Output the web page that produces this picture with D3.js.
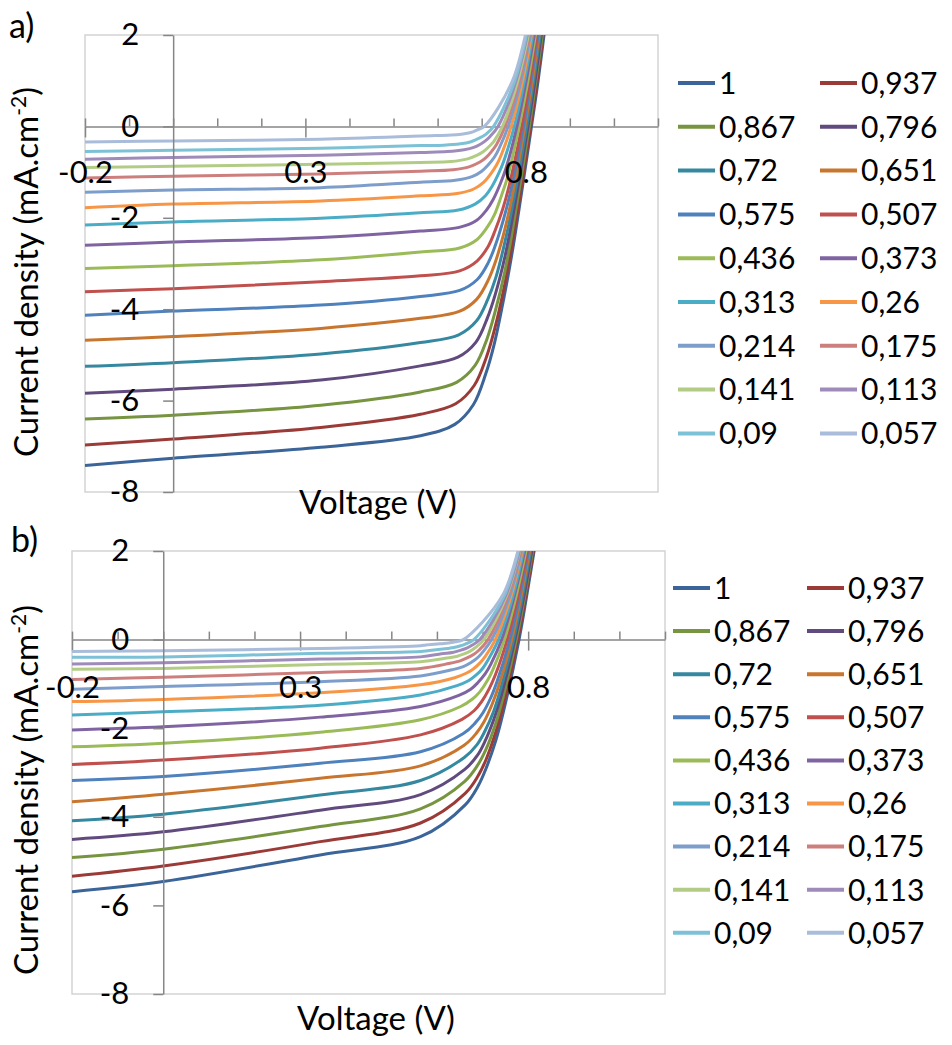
<!DOCTYPE html>
<html>
<head>
<meta charset="utf-8">
<script src="https://cdn.jsdelivr.net/npm/d3@7"></script>
<style>
  body { margin: 0; background: #fff; }
</style>
</head>
<body>
<script>
// light intensity of each curve, as written in the legend
const intensities = ['1', '0,937', '0,867', '0,796', '0,72', '0,651', '0,575', '0,507', '0,436',
    '0,373', '0,313', '0,26', '0,214', '0,175', '0,141', '0,113', '0,09', '0,057'];

const voltageTicks = [-0.2, -0.1, 0, 0.1, 0.2, 0.3, 0.4, 0.5, 0.6, 0.7, 0.8, 0.9, 1.0, 1.1];
const voltageLabels = [-0.2, 0.3, 0.8];
const currentTicks = [2, 0, -2, -4, -6, -8];

// [voltage V, current density mA/cm2] read off panel a)
const curvesA = [
    [[-0.2,-7.42],[0,-7.26],[0.335,-7.02],[0.561,-6.77],[0.639,-6.52],[0.681,-6.09],[0.709,-5.42],[0.729,-4.74],[0.751,-3.72],[0.770,-2.71],[0.813,0],[0.828,1],[0.848,2.5]],
    [[-0.2,-6.97],[0,-6.84],[0.335,-6.59],[0.561,-6.30],[0.641,-6.07],[0.683,-5.67],[0.711,-5.04],[0.730,-4.41],[0.752,-3.47],[0.770,-2.52],[0.811,0],[0.826,1],[0.846,2.5]],
    [[-0.2,-6.40],[0,-6.32],[0.335,-6.10],[0.561,-5.81],[0.643,-5.60],[0.685,-5.23],[0.712,-4.65],[0.730,-4.07],[0.752,-3.20],[0.769,-2.32],[0.808,0],[0.823,1],[0.845,2.5]],
    [[-0.2,-5.84],[0,-5.75],[0.335,-5.55],[0.561,-5.24],[0.646,-5.05],[0.687,-4.72],[0.713,-4.19],[0.731,-3.67],[0.752,-2.88],[0.768,-2.10],[0.805,0],[0.821,1],[0.842,2.5]],
    [[-0.2,-5.25],[0,-5.17],[0.335,-4.98],[0.561,-4.73],[0.648,-4.56],[0.688,-4.26],[0.714,-3.78],[0.732,-3.31],[0.751,-2.60],[0.767,-1.89],[0.802,0],[0.818,1],[0.840,2.5]],
    [[-0.2,-4.68],[0,-4.60],[0.335,-4.42],[0.561,-4.20],[0.649,-4.05],[0.689,-3.78],[0.715,-3.36],[0.732,-2.94],[0.751,-2.31],[0.766,-1.68],[0.798,0],[0.815,1],[0.838,2.5]],
    [[-0.2,-4.13],[0,-4.04],[0.335,-3.91],[0.561,-3.72],[0.650,-3.59],[0.690,-3.35],[0.715,-2.98],[0.731,-2.60],[0.749,-2.05],[0.764,-1.49],[0.795,0],[0.812,1],[0.836,2.5]],
    [[-0.2,-3.62],[0,-3.55],[0.335,-3.40],[0.561,-3.27],[0.650,-3.16],[0.690,-2.94],[0.715,-2.62],[0.730,-2.29],[0.748,-1.80],[0.762,-1.31],[0.791,0],[0.809,1],[0.833,2.5]],
    [[-0.2,-3.11],[0,-3.05],[0.335,-2.92],[0.561,-2.75],[0.650,-2.66],[0.689,-2.48],[0.713,-2.20],[0.729,-1.93],[0.745,-1.51],[0.759,-1.10],[0.785,0],[0.805,1],[0.830,2.5]],
    [[-0.2,-2.60],[0,-2.53],[0.335,-2.43],[0.561,-2.29],[0.649,-2.21],[0.688,-2.06],[0.711,-1.83],[0.726,-1.60],[0.742,-1.26],[0.755,-0.92],[0.780,0],[0.801,1],[0.828,2.5]],
    [[-0.2,-2.16],[0,-2.09],[0.335,-2.01],[0.561,-1.89],[0.647,-1.83],[0.685,-1.70],[0.709,-1.51],[0.723,-1.32],[0.738,-1.04],[0.750,-0.76],[0.774,0],[0.797,1],[0.825,2.5]],
    [[-0.2,-1.78],[0,-1.70],[0.335,-1.63],[0.561,-1.52],[0.644,-1.47],[0.682,-1.37],[0.705,-1.22],[0.719,-1.06],[0.734,-0.84],[0.745,-0.61],[0.767,0],[0.793,1],[0.822,2.5]],
    [[-0.2,-1.44],[0,-1.39],[0.335,-1.34],[0.561,-1.22],[0.640,-1.18],[0.678,-1.10],[0.700,-0.98],[0.714,-0.85],[0.729,-0.67],[0.739,-0.49],[0.760,0],[0.789,1],[0.820,2.5]],
    [[-0.2,-1.13],[0,-1.09],[0.335,-1.04],[0.561,-0.98],[0.635,-0.95],[0.673,-0.88],[0.696,-0.78],[0.709,-0.69],[0.723,-0.54],[0.734,-0.39],[0.753,0],[0.785,1],[0.818,2.5]],
    [[-0.2,-0.90],[0,-0.87],[0.335,-0.83],[0.561,-0.79],[0.630,-0.77],[0.668,-0.71],[0.690,-0.63],[0.704,-0.55],[0.718,-0.43],[0.728,-0.32],[0.747,0],[0.782,1],[0.816,2.5]],
    [[-0.2,-0.72],[0,-0.68],[0.335,-0.63],[0.561,-0.57],[0.622,-0.55],[0.660,-0.51],[0.682,-0.46],[0.695,-0.40],[0.709,-0.31],[0.718,-0.23],[0.737,0],[0.778,1],[0.814,2.5]],
    [[-0.2,-0.55],[0,-0.52],[0.335,-0.48],[0.561,-0.42],[0.614,-0.41],[0.652,-0.38],[0.674,-0.34],[0.687,-0.29],[0.700,-0.23],[0.710,-0.17],[0.727,0],[0.775,1],[0.812,2.5]],
    [[-0.2,-0.34],[0,-0.32],[0.335,-0.28],[0.561,-0.21],[0.595,-0.20],[0.632,-0.19],[0.654,-0.17],[0.667,-0.15],[0.680,-0.12],[0.689,-0.08],[0.706,0],[0.770,1],[0.810,2.5]]
];

// same, panel b)
const curvesB = [
    [[-0.2,-5.69],[0,-5.46],[0.344,-4.86],[0.564,-4.45],[0.662,-3.73],[0.690,-3.31],[0.708,-2.90],[0.729,-2.28],[0.745,-1.66],[0.780,0],[0.797,1],[0.821,2.5]],
    [[-0.2,-5.34],[0,-5.11],[0.344,-4.56],[0.564,-4.14],[0.662,-3.47],[0.690,-3.08],[0.708,-2.70],[0.728,-2.12],[0.744,-1.54],[0.777,0],[0.795,1],[0.820,2.5]],
    [[-0.2,-4.92],[0,-4.73],[0.344,-4.22],[0.564,-3.82],[0.661,-3.20],[0.689,-2.84],[0.707,-2.49],[0.727,-1.95],[0.742,-1.42],[0.774,0],[0.793,1],[0.818,2.5]],
    [[-0.2,-4.51],[0,-4.34],[0.344,-3.85],[0.564,-3.50],[0.661,-2.93],[0.689,-2.61],[0.706,-2.28],[0.725,-1.79],[0.740,-1.30],[0.771,0],[0.791,1],[0.816,2.5]],
    [[-0.2,-4.09],[0,-3.94],[0.344,-3.51],[0.564,-3.18],[0.660,-2.66],[0.688,-2.37],[0.705,-2.07],[0.724,-1.63],[0.738,-1.18],[0.768,0],[0.788,1],[0.814,2.5]],
    [[-0.2,-3.66],[0,-3.49],[0.344,-3.13],[0.564,-2.85],[0.659,-2.39],[0.686,-2.12],[0.703,-1.86],[0.721,-1.46],[0.735,-1.06],[0.764,0],[0.785,1],[0.812,2.5]],
    [[-0.2,-3.18],[0,-3.09],[0.344,-2.79],[0.564,-2.53],[0.658,-2.12],[0.684,-1.88],[0.701,-1.65],[0.719,-1.29],[0.732,-0.94],[0.760,0],[0.782,1],[0.810,2.5]],
    [[-0.2,-2.82],[0,-2.72],[0.344,-2.45],[0.564,-2.15],[0.655,-1.80],[0.682,-1.60],[0.698,-1.40],[0.715,-1.10],[0.728,-0.80],[0.754,0],[0.778,1],[0.808,2.5]],
    [[-0.2,-2.42],[0,-2.34],[0.344,-2.09],[0.564,-1.81],[0.652,-1.51],[0.678,-1.34],[0.694,-1.18],[0.711,-0.92],[0.723,-0.67],[0.748,0],[0.774,1],[0.805,2.5]],
    [[-0.2,-2.04],[0,-1.97],[0.344,-1.75],[0.564,-1.51],[0.648,-1.26],[0.674,-1.12],[0.689,-0.98],[0.706,-0.77],[0.718,-0.56],[0.742,0],[0.770,1],[0.803,2.5]],
    [[-0.2,-1.70],[0,-1.63],[0.344,-1.48],[0.564,-1.25],[0.644,-1.04],[0.669,-0.93],[0.685,-0.81],[0.701,-0.64],[0.712,-0.46],[0.735,0],[0.767,1],[0.800,2.5]],
    [[-0.2,-1.40],[0,-1.35],[0.344,-1.20],[0.564,-1.02],[0.639,-0.86],[0.664,-0.76],[0.679,-0.67],[0.695,-0.52],[0.706,-0.38],[0.728,0],[0.763,1],[0.798,2.5]],
    [[-0.2,-1.12],[0,-1.06],[0.344,-0.95],[0.564,-0.82],[0.633,-0.68],[0.658,-0.61],[0.673,-0.53],[0.688,-0.42],[0.699,-0.30],[0.720,0],[0.760,1],[0.796,2.5]],
    [[-0.2,-0.90],[0,-0.85],[0.344,-0.74],[0.564,-0.65],[0.626,-0.54],[0.651,-0.48],[0.665,-0.42],[0.681,-0.33],[0.692,-0.24],[0.712,0],[0.756,1],[0.794,2.5]],
    [[-0.2,-0.67],[0,-0.65],[0.344,-0.56],[0.564,-0.50],[0.618,-0.42],[0.643,-0.38],[0.658,-0.33],[0.673,-0.26],[0.683,-0.19],[0.703,0],[0.753,1],[0.793,2.5]],
    [[-0.2,-0.55],[0,-0.52],[0.344,-0.44],[0.564,-0.39],[0.610,-0.32],[0.634,-0.29],[0.649,-0.25],[0.664,-0.20],[0.675,-0.14],[0.694,0],[0.751,1],[0.792,2.5]],
    [[-0.2,-0.40],[0,-0.39],[0.344,-0.31],[0.564,-0.27],[0.598,-0.23],[0.623,-0.20],[0.637,-0.18],[0.652,-0.14],[0.662,-0.10],[0.681,0],[0.748,1],[0.790,2.5]],
    [[-0.2,-0.27],[0,-0.25],[0.344,-0.20],[0.564,-0.14],[0.576,-0.12],[0.601,-0.10],[0.615,-0.09],[0.629,-0.07],[0.640,-0.05],[0.658,0],[0.744,1],[0.789,2.5]]
];

const palette = ['#3b6498', '#9b3b38', '#779441', '#614a7e', '#35889f', '#c8762f',
    '#4f81bd', '#c0504d', '#9bbb59', '#8064a2', '#4bacc6', '#f79646',
    '#7d9dcb', '#cd7f7d', '#b3cc85', '#9e8bba', '#7cc1d6', '#a9bcda'];

const FONT = 'Lato, "Open Sans", sans-serif';
const axisColor = '#868686';

const svg = d3.select('body')
    .append('svg')
    .attr('width', 952)
    .attr('height', 1045);

function styleAxis(sel) {
    sel.attr('font-family', FONT).attr('font-size', 31);
    sel.selectAll('line, path').attr('stroke', axisColor).attr('stroke-width', 1.5);
    sel.selectAll('text').attr('fill', '#000');
}

function drawPanel(p, curves) {
    const x = d3.scaleLinear().domain([-0.2, 1.1]).range([p.left, p.right]);
    const y = d3.scaleLinear().domain([-8, 2]).range([p.bottom, p.top]);
    const g = svg.append('g');

    g.append('rect')
        .attr('x', p.left)
        .attr('y', p.top)
        .attr('width', p.right - p.left)
        .attr('height', p.bottom - p.top)
        .attr('fill', 'none')
        .attr('stroke', '#d4d4d4')
        .attr('stroke-width', 1.5);

    g.append('clipPath')
        .attr('id', 'clip-' + p.id)
        .append('rect')
        .attr('x', p.left)
        .attr('y', p.top)
        .attr('width', p.right - p.left)
        .attr('height', p.bottom - p.top);

    // x axis crosses at 0 mA, small ticks above, crossing ticks at labelled values
    g.append('g')
        .attr('transform', `translate(0, ${y(0)})`)
        .call(d3.axisTop(x).tickValues(voltageTicks).tickSize(8).tickSizeOuter(0).tickFormat(''))
        .call(styleAxis);
    g.append('g')
        .attr('transform', `translate(0, ${y(0)})`)
        .call(d3.axisBottom(x).tickValues(voltageLabels).tickSize(11).tickSizeOuter(0).tickFormat(''))
        .call(styleAxis)
        .call(s => s.select('.domain').remove());

    // y axis crosses at 0 V
    const yAxis = g.append('g')
        .attr('transform', `translate(${x(0)}, 0)`)
        .call(d3.axisLeft(y).tickValues(currentTicks).tickSize(10).tickPadding(24).tickSizeOuter(0)
            .tickFormat(d => String(d)))
        .call(styleAxis);

    const line = d3.line()
        .x(d => x(d[0]))
        .y(d => y(d[1]))
        .curve(d3.curveCatmullRom.alpha(0.5));

    g.append('g')
        .attr('clip-path', `url(#clip-${p.id})`)
        .selectAll('path')
        .data(curves)
        .join('path')
        .attr('d', line)
        .attr('fill', 'none')
        .attr('stroke', (d, i) => palette[i])
        .attr('stroke-width', 3);

    // labels over the curves
    yAxis.raise();
    g.append('g')
        .attr('transform', `translate(0, ${y(0)})`)
        .call(d3.axisBottom(x).tickValues(voltageLabels).tickSize(0).tickPadding(p.xLabelPad)
            .tickFormat(d => String(d)))
        .call(styleAxis)
        .call(s => s.select('.domain').remove());

    g.append('text')
        .attr('x', p.tagX)
        .attr('y', p.tagY)
        .attr('font-family', FONT)
        .attr('font-size', 34)
        .text(p.tag);

    g.append('text')
        .attr('x', p.xTitleX)
        .attr('y', p.xTitleY)
        .attr('text-anchor', 'middle')
        .attr('font-family', FONT)
        .attr('font-size', 33)
        .text('Voltage (V)');

    const yt = g.append('text')
        .attr('transform', `translate(${p.yTitleX}, ${p.yTitleY}) rotate(-90)`)
        .attr('text-anchor', 'middle')
        .attr('font-family', FONT)
        .attr('font-size', 33);
    yt.append('tspan').text('Current density (mA.cm');
    yt.append('tspan').attr('font-size', 21).attr('dy', -12).text('-2');
    yt.append('tspan').attr('dy', 12).text(')');

    const legend = g.append('g')
        .selectAll('g')
        .data(intensities)
        .join('g')
        .attr('transform', (d, i) =>
            `translate(${p.legendX[i % 2]}, ${p.legendY0 + Math.floor(i / 2) * p.legendDy})`);
    legend.append('line')
        .attr('x1', 0)
        .attr('x2', 37)
        .attr('stroke', (d, i) => palette[i])
        .attr('stroke-width', 4);
    legend.append('text')
        .attr('x', 41)
        .attr('dy', '0.36em')
        .attr('font-family', FONT)
        .attr('font-size', 30)
        .text(d => d);
}

drawPanel({
    id: 'a', left: 85, right: 658, top: 35, bottom: 492, xLabelPad: 35,
    tag: 'a)', tagX: 9, tagY: 38,
    xTitleX: 378, xTitleY: 514, yTitleX: 38, yTitleY: 272,
    legendX: [678, 820], legendY0: 83, legendDy: 43.8
}, curvesA);

drawPanel({
    id: 'b', left: 72, right: 665, top: 551, bottom: 994, xLabelPad: 36,
    tag: 'b)', tagX: 11, tagY: 552,
    xTitleX: 376, xTitleY: 1030, yTitleX: 38, yTitleY: 790,
    legendX: [673, 807], legendY0: 588, legendDy: 43.1
}, curvesB);
</script>
</body>
</html>
